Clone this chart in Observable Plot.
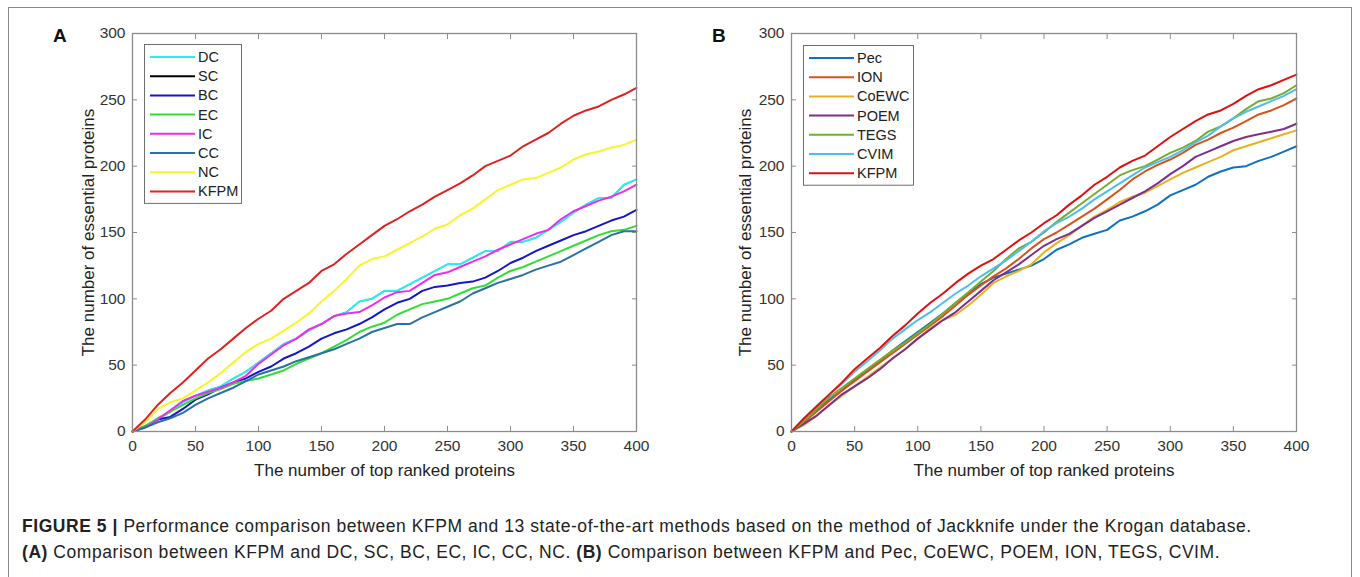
<!DOCTYPE html>
<html><head><meta charset="utf-8">
<script src="https://cdn.jsdelivr.net/npm/d3@7"></script>
<script src="https://cdn.jsdelivr.net/npm/@observablehq/plot@0.6"></script>
<style>
body{margin:0;background:#fff;font-family:"Liberation Sans",Arial,sans-serif;}
#fig{position:relative;width:1360px;height:577px;overflow:hidden;background:#fff;}
#frame{position:absolute;left:8px;top:7px;width:1344px;height:620px;border:1px solid #8a8a8a;box-sizing:border-box;}
.panel{position:absolute;top:0;}
.letter{position:absolute;font-weight:bold;font-size:19px;color:#111;}
.legend{position:absolute;}
.caption{position:absolute;left:22px;font-size:17.5px;letter-spacing:0.55px;color:#222;white-space:nowrap;}
</style></head>
<body>
<div id="fig">
  <div id="frame"></div>
  <div id="pA" class="panel" style="left:0"></div>
  <div id="pB" class="panel" style="left:680px"></div>
  <div class="letter" style="left:53px;top:25px">A</div>
  <div class="letter" style="left:712px;top:25px">B</div>
  <div id="legA" class="legend" style="left:144px;top:44px"></div>
  <div id="legB" class="legend" style="left:803px;top:45px"></div>
  <div class="caption" style="top:516px"><b>FIGURE 5 |</b> Performance comparison between KFPM and 13 state-of-the-art methods based on the method of Jackknife under the Krogan database.</div>
  <div class="caption" style="top:542px"><b>(A)</b> Comparison between KFPM and DC, SC, BC, EC, IC, CC, NC. <b>(B)</b> Comparison between KFPM and Pec, CoEWC, POEM, ION, TEGS, CVIM.</div>
</div>
<script>
// ---- data ----
const xs = [0,10,20,30,40,50,60,70,80,90,100,110,120,130,140,150,160,170,180,190,200,210,220,230,240,250,260,270,280,290,300,310,320,330,340,350,360,370,380,390,400];
const xTicks = [0,50,100,150,200,250,300,350,400];
const yTicks = [0,50,100,150,200,250,300];
const xLabel = "The number of top ranked proteins";
const yLabel = "The number of essential proteins";

// Panel A (legend order)
const namesA = ["DC","SC","BC","EC","IC","CC","NC","KFPM"];
const colorsA = ["#2aeef0","#000000","#1616c8","#33dd33","#ee2cee","#2a72a6","#f6f62a","#dd2222"];
const dcA   = [0,3,9,15,22,27,31,34,40,45,52,59,66,70,76,81,87,90,98,100,106,106,111,116,121,126,126,131,136,136,143,143,146,152,158,165,171,176,176,186,190];
const scA   = [0,3,9,15,22,27,31,34,40,45,52,59,66,70,76,81,87,90,98,100,106,106,111,116,121,126,126,131,136,136,143,143,146,152,158,165,171,176,176,186,190];
const bcA   = [0,4,9,11,17,24,28,33,37,40,45,49,55,59,64,70,74,77,81,86,92,97,100,106,109,110,112,113,116,121,127,131,136,140,144,148,151,155,159,162,167];
const ecA   = [0,4,10,15,20,25,29,32,36,38,40,43,46,51,55,59,64,69,75,79,82,88,92,96,98,100,104,108,110,116,121,124,128,132,136,140,144,148,151,152,155];
const icA   = [0,3,9,16,23,27,30,33,37,42,51,58,65,70,77,81,87,89,90,95,101,105,106,112,118,120,124,128,132,137,141,145,149,152,160,166,170,174,177,181,186];
const ccA   = [0,3,7,10,14,20,25,29,33,38,43,46,49,53,56,59,62,66,70,75,78,81,81,86,90,94,98,104,108,112,115,118,122,125,128,133,138,143,148,151,151];
const ncA   = [0,7,17,22,25,31,37,44,52,60,66,70,76,82,89,98,106,115,125,130,132,137,142,147,153,156,163,168,175,182,186,190,191,195,199,205,209,211,214,216,220];
const kfpmA = [0,9,20,29,37,46,55,62,70,78,85,91,100,106,112,121,126,134,141,148,155,160,166,171,177,182,187,193,200,204,208,215,220,225,232,238,242,245,250,254,259];
const seriesA = [dcA,scA,bcA,ecA,icA,ccA,ncA,kfpmA];
// SC lies hidden underneath DC in the figure, so it is drawn first and thinner
const hiddenA = ["SC"];

// Panel B
const namesB = ["Pec","ION","CoEWC","POEM","TEGS","CVIM","KFPM"];
const colorsB = ["#0f72bd","#d95319","#e8b120","#7e2f8e","#77ac30","#4dbeee","#e01010"];
const pecB   = [0,8,16,24,31,39,46,53,61,68,75,82,89,97,104,111,116,119,122,125,130,137,141,146,149,152,159,162,166,171,178,182,186,192,196,199,200,204,207,211,215];
const ionB   = [0,7,15,23,31,38,45,52,59,66,73,80,87,95,103,110,117,123,130,138,145,150,156,162,168,175,182,190,196,201,205,210,216,220,225,229,234,239,242,246,251];
const coewcB = [0,5,12,20,27,34,41,48,55,62,70,78,84,88,95,103,112,117,121,126,135,142,148,155,162,167,173,177,180,185,190,195,199,203,207,212,215,218,221,224,227];
const poemB  = [0,6,12,20,28,34,40,47,55,62,70,77,84,90,98,106,114,120,126,133,140,145,149,155,161,166,171,176,181,187,194,200,207,211,215,219,222,224,226,228,232];
const tegsB  = [0,8,17,26,33,40,47,54,61,67,74,81,89,97,105,113,121,130,138,143,150,158,165,172,179,186,193,197,200,205,210,214,219,226,230,236,243,249,251,255,261];
const cvimB  = [0,10,19,28,36,45,53,61,70,77,84,90,97,104,110,117,123,129,136,143,151,157,162,168,175,181,187,193,199,203,207,212,218,223,230,236,241,245,249,253,258];
const kfpmB  = [0,10,19,28,37,47,55,63,72,80,89,97,104,112,119,125,130,137,144,150,157,163,171,178,186,192,199,204,208,215,222,228,234,239,242,247,253,258,261,265,269];
const seriesB = [pecB,ionB,coewcB,poemB,tegsB,cvimB,kfpmB];

function table(names, series){
  return names.flatMap((n,i)=>series[i].map((v,j)=>({x:xs[j], y:v, s:n})));
}

function panel(names, colors, series, hidden, ml, mr, ylabDx){
  const data = table(names, series);
  const under = data.filter(d=>hidden.includes(d.s));
  const over = data.filter(d=>!hidden.includes(d.s));
  const axisColor = "#8c8c8c";
  return Plot.plot({
    width:680, height:490,
    marginLeft:ml, marginRight:mr, marginTop:33, marginBottom:59,
    style:{fontFamily:"'Liberation Sans', Arial, sans-serif", background:"transparent", color:"#333"},
    x:{domain:[0,400], ticks:xTicks},
    y:{domain:[0,300], ticks:yTicks},
    color:{domain:names, range:colors},
    marks:[
      Plot.line(under, {x:"x", y:"y", z:"s", stroke:"s", strokeWidth:1.2}),
      Plot.line(over, {x:"x", y:"y", z:"s", stroke:"s", strokeWidth:2}),
      Plot.frame({stroke:axisColor, strokeWidth:1.3}),
      Plot.axisX(xTicks, {anchor:"bottom", tickSize:-5, tickFormat:()=>"", stroke:axisColor, label:null}),
      Plot.axisX(xTicks, {anchor:"top", tickSize:-5, tickFormat:()=>"", stroke:axisColor, label:null}),
      Plot.axisY(yTicks, {anchor:"left", tickSize:-5, tickFormat:()=>"", stroke:axisColor, label:null}),
      Plot.axisY(yTicks, {anchor:"right", tickSize:-5, tickFormat:()=>"", stroke:axisColor, label:null}),
      Plot.axisX(xTicks, {anchor:"bottom", tickSize:0, tickPadding:8, fontSize:15.5, fill:"#333", label:null}),
      Plot.axisY(yTicks, {anchor:"left", tickSize:0, tickPadding:7, fontSize:15.5, fill:"#333", label:null}),
      Plot.text([xLabel], {text:d=>d, frameAnchor:"bottom", textAnchor:"middle", lineAnchor:"middle", dy:39, fontSize:17, fill:"#222"}),
      Plot.text([yLabel], {text:d=>d, frameAnchor:"left", textAnchor:"middle", lineAnchor:"middle", rotate:-90, dx:ylabDx, fontSize:17, fill:"#222"})
    ]
  });
}

document.getElementById("pA").append(panel(namesA, colorsA, seriesA, hiddenA, 132, 44, -44));
document.getElementById("pB").append(panel(namesB, colorsB, seriesB, [], 111, 64, -46));

function legend(el, names, colors, w){
  const rowH = 19.2, top = 13, h = top + rowH*(names.length-1) + 12;
  const svg = d3.select(el).append("svg").attr("width", w).attr("height", h+1);
  svg.append("rect").attr("x",0.5).attr("y",0.5).attr("width",w-1).attr("height",h-0.5)
     .attr("fill","#fff").attr("stroke","#6e6e6e").attr("stroke-width",1);
  names.forEach((n,i)=>{
    const y = top + i*rowH;
    svg.append("line").attr("x1",6).attr("x2",51).attr("y1",y).attr("y2",y)
       .attr("stroke",colors[i]).attr("stroke-width",2);
    svg.append("text").attr("x",54).attr("y",y).attr("dy","0.35em")
       .attr("font-size",14.5).attr("fill","#222").text(n);
  });
}
legend(document.getElementById("legA"), namesA, colorsA, 98);
legend(document.getElementById("legB"), namesB, colorsB, 111);
</script>
</body></html>
